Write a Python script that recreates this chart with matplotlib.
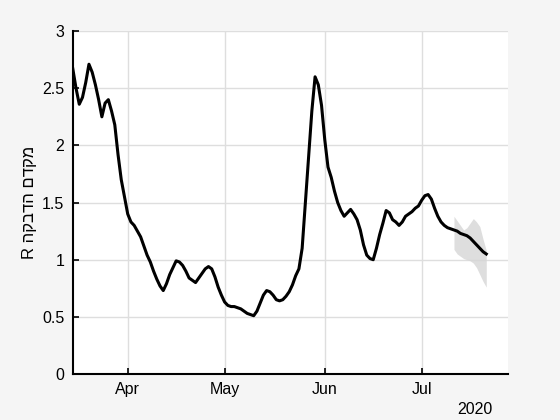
import numpy as np
import pandas as pd
import matplotlib
matplotlib.use("Agg")
import matplotlib.pyplot as plt
import matplotlib.dates as mdates

# daily R estimate, starting 15 Mar 2020
r_values = [2.67, 2.50, 2.36, 2.42, 2.55, 2.71, 2.64, 2.53, 2.40, 2.25,
            2.37, 2.40, 2.30, 2.18, 1.92, 1.70, 1.55, 1.40, 1.33, 1.30,
            1.25, 1.20, 1.12, 1.04, 0.98, 0.90, 0.83, 0.77, 0.73, 0.79,
            0.87, 0.93, 0.99, 0.98, 0.95, 0.90, 0.84, 0.82, 0.80, 0.84,
            0.88, 0.92, 0.94, 0.92, 0.85, 0.76, 0.69, 0.63, 0.60, 0.59,
            0.59, 0.58, 0.57, 0.55, 0.53, 0.52, 0.51, 0.55, 0.62, 0.69,
            0.73, 0.72, 0.69, 0.65, 0.64, 0.65, 0.68, 0.72, 0.78, 0.86,
            0.92, 1.10, 1.50, 1.90, 2.30, 2.60, 2.53, 2.35, 2.05, 1.81,
            1.72, 1.60, 1.50, 1.43, 1.38, 1.41, 1.44, 1.40, 1.35, 1.26,
            1.13, 1.04, 1.01, 1.00, 1.10, 1.22, 1.32, 1.43, 1.41, 1.35,
            1.33, 1.30, 1.33, 1.38, 1.40, 1.42, 1.45, 1.47, 1.52, 1.56,
            1.57, 1.53, 1.45, 1.38, 1.33, 1.30, 1.28, 1.27, 1.26, 1.25,
            1.23, 1.22, 1.21, 1.19, 1.16, 1.13, 1.10, 1.07, 1.05]
start_date = "2020-03-15"

# uncertainty band for the last days (from 11 Jul)
band_start = "2020-07-11"
band_upper = [1.38, 1.34, 1.30, 1.26, 1.28, 1.32, 1.36, 1.33, 1.29, 1.18, 1.08]
band_lower = [1.09, 1.05, 1.03, 1.01, 1.00, 0.99, 0.97, 0.93, 0.87, 0.81, 0.76]

y_label = "מקדם הדבקה R"
year_label = "2020"

dates = pd.date_range(start_date, periods=len(r_values))
band_dates = pd.date_range(band_start, periods=len(band_upper))

plt.rcParams['font.family'] = ['Liberation Sans', 'DejaVu Sans']
fig = plt.figure(figsize=(5.6, 4.2), dpi=100, facecolor='#f5f5f5')
ax = fig.add_axes([0.130, 0.1095, 0.777, 0.8165])
ax.set_facecolor('white')

ax.fill_between(band_dates, band_lower, band_upper, color='#d6d6d6',
                alpha=0.8, linewidth=0)
ax.plot(dates, r_values, color='black', lw=2.2)

ax.set_ylim(0, 3)
ax.set_yticks(np.arange(0, 3.01, 0.5))
ax.set_yticklabels(["0", "0.5", "1", "1.5", "2", "2.5", "3"])
ax.set_xlim(pd.Timestamp("2020-03-15"), pd.Timestamp("2020-03-15") + pd.Timedelta(days=134.7))
ax.xaxis.set_major_locator(mdates.MonthLocator())
ax.xaxis.set_major_formatter(mdates.DateFormatter('%b'))

ax.grid(True, color='#dedede', lw=1.0)
ax.set_axisbelow(True)
for s in ['top', 'right']:
    ax.spines[s].set_visible(False)
for s in ['left', 'bottom']:
    ax.spines[s].set_linewidth(1.5)
ax.tick_params(direction='in', length=4, width=1.2, labelsize=11.5, pad=6)

# matplotlib has no bidi support: reverse the Hebrew string for display
ax.set_ylabel(y_label[::-1], fontsize=12, labelpad=4)
ax.text(493 / 560, 1 - 409 / 420, year_label, transform=fig.transFigure,
        ha='right', va='center', fontsize=11.5)

fig.savefig("out.png", dpi=100, facecolor=fig.get_facecolor())
